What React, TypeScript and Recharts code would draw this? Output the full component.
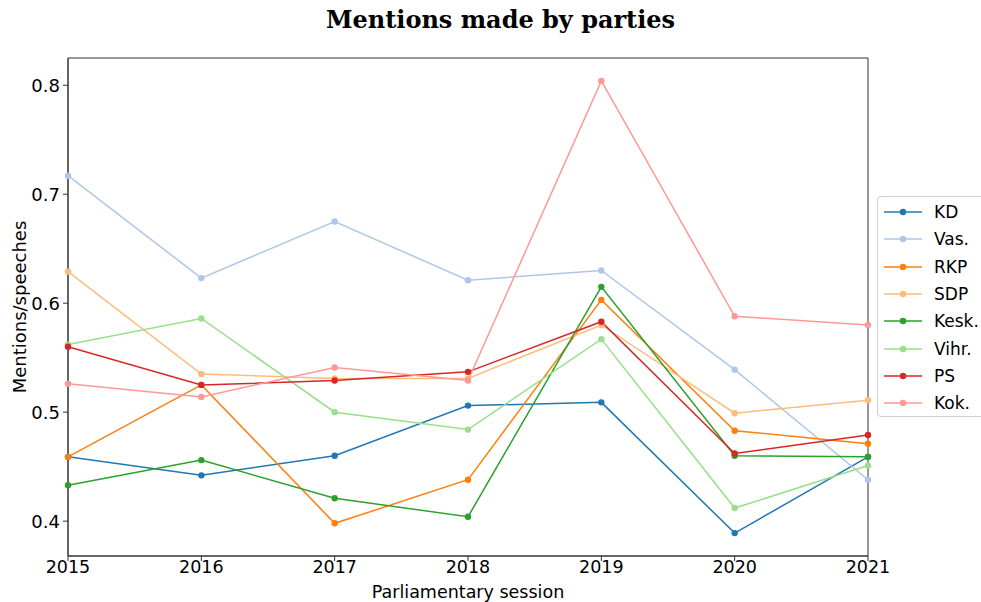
import React from 'react';
import { LineChart, Line, XAxis, YAxis, ReferenceArea } from 'recharts';

const years = [2015, 2016, 2017, 2018, 2019, 2020, 2021];
const yTicks = [0.4, 0.5, 0.6, 0.7, 0.8];

const kd = [0.459, 0.442, 0.46, 0.506, 0.509, 0.389, 0.459];
const vas = [0.717, 0.623, 0.675, 0.621, 0.63, 0.539, 0.438];
const rkp = [0.459, 0.525, 0.398, 0.438, 0.603, 0.483, 0.471];
const sdp = [0.629, 0.535, 0.531, 0.531, 0.58, 0.499, 0.511];
const kesk = [0.433, 0.456, 0.421, 0.404, 0.615, 0.46, 0.459];
const vihr = [0.562, 0.586, 0.5, 0.484, 0.567, 0.412, 0.451];
const ps = [0.56, 0.525, 0.529, 0.537, 0.583, 0.462, 0.479];
const kok = [0.526, 0.514, 0.541, 0.529, 0.804, 0.588, 0.58];

const parties = [
  { key: 'KD', color: '#1f77b4', values: kd },
  { key: 'Vas.', color: '#aec7e8', values: vas },
  { key: 'RKP', color: '#ff7f0e', values: rkp },
  { key: 'SDP', color: '#ffbb78', values: sdp },
  { key: 'Kesk.', color: '#2ca02c', values: kesk },
  { key: 'Vihr.', color: '#98df8a', values: vihr },
  { key: 'PS', color: '#d62728', values: ps },
  { key: 'Kok.', color: '#ff9896', values: kok },
];

const data = years.map((year, i) => {
  const row: Record<string, number> = { year };
  parties.forEach(p => { row[p.key] = p.values[i]; });
  return row;
});

const Y_MIN = 0.368;
const Y_MAX = 0.825;
const font = 'DejaVu Sans, sans-serif';

export default function App() {
  return (
    <div style={{ position: 'absolute', left: 0, top: 0, width: 981, height: 602, background: '#fff', fontFamily: font, overflow: 'hidden' }}>
      <div style={{ position: 'absolute', top: 5, left: 10, width: 981, textAlign: 'center', fontFamily: 'DejaVu Serif, serif', fontWeight: 'bold', fontSize: 24 }}>
        Mentions made by parties
      </div>
      <LineChart width={981} height={602} data={data} margin={{ top: 58, right: 113, bottom: 0, left: 0 }}>
        <XAxis
          dataKey="year" type="number" domain={[2015, 2021]} ticks={years}
          height={46} tickSize={5} tickMargin={0}
          tick={{ fill: '#000', fontSize: 17.5, fontFamily: font }}
          stroke="#333"
          label={{ value: 'Parliamentary session', position: 'insideBottom', offset: 4, fill: '#000', fontSize: 17.5, fontFamily: font }}
        />
        <YAxis
          type="number" domain={[Y_MIN, Y_MAX]} ticks={yTicks} allowDataOverflow
          width={68} tickSize={5} tickMargin={3}
          tick={{ fill: '#000', fontSize: 18, fontFamily: font }}
          stroke="#333"
          label={{ value: 'Mentions/speeches', angle: -90, position: 'insideLeft', offset: 20, fill: '#000', fontSize: 18, fontFamily: font, style: { textAnchor: 'middle' } }}
        />
        <ReferenceArea x1={2015} x2={2021} y1={Y_MIN} y2={Y_MAX} fill="none" stroke="#333" strokeWidth={1} />
        {parties.map(p => (
          <Line
            key={p.key} dataKey={p.key} stroke={p.color} strokeWidth={1.5}
            dot={{ r: 3.2, fill: p.color, stroke: 'none' }} activeDot={false}
            isAnimationActive={false}
          />
        ))}
      </LineChart>
      <div style={{ position: 'absolute', left: 877, top: 196, width: 115, height: 221, border: '1px solid #d0d0d0', borderRadius: 4, background: '#fff', boxSizing: 'border-box' }}>
        {parties.map((p, i) => (
          <div key={p.key} style={{ position: 'absolute', left: 6, top: 3 + i * 27.3, height: 24, display: 'flex', alignItems: 'center' }}>
            <svg width={38} height={10}>
              <line x1={0} y1={5} x2={38} y2={5} stroke={p.color} strokeWidth={1.5} />
              <circle cx={19} cy={5} r={3.2} fill={p.color} />
            </svg>
            <span style={{ marginLeft: 12, fontSize: 17, color: '#000' }}>{p.key}</span>
          </div>
        ))}
      </div>
    </div>
  );
}
